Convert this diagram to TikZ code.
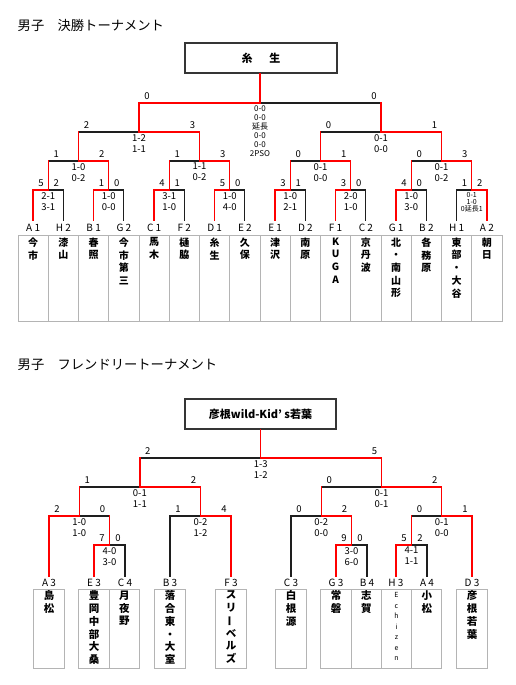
\documentclass[tikz,border=0pt]{standalone}
\usepackage{fontspec}
\setmainfont{Noto Sans CJK JP}
\definecolor{rd}{RGB}{255,0,0}
\definecolor{bk}{RGB}{30,30,30}
\definecolor{gbox}{RGB}{180,180,180}
\tikzset{
  win/.style={draw=rd, line width=1.3pt, line cap=rect},
  lose/.style={draw=bk, line width=1.2pt, line cap=rect},
  lab/.style={font=\fontsize{9.5}{11}\selectfont, inner sep=0pt},
  score/.style={font=\fontsize{9.5}{11}\selectfont, inner sep=0pt, align=center, anchor=north},
  finscore/.style={font=\fontsize{8}{9}\selectfont, inner sep=0pt, align=center, anchor=north},
  smallscore/.style={font=\fontsize{7}{7.3}\selectfont, inner sep=0pt, align=center, anchor=north},
  tlab/.style={font=\fontsize{10}{12}\selectfont, inner sep=0pt},
  tname/.style={font=\bfseries\fontsize{10}{12.7}\selectfont, inner sep=0pt, align=center, anchor=north},
  fname/.style={font=\bfseries\fontsize{10.5}{12.8}\selectfont, inner sep=0pt, align=center, anchor=north},
  ename/.style={font=\fontsize{7}{10.5}\selectfont, inner sep=0pt, align=center, anchor=north},
  tbox/.style={draw=gbox, line width=0.8pt},
  champ/.style={draw=bk!90, line width=1.5pt, minimum height=30pt, inner sep=0pt, font=\bfseries\fontsize{11}{13}\selectfont},
  ttl/.style={anchor=west, inner sep=0pt, font=\fontsize{13.3}{15}\selectfont}
}
% #1 name #2 xl #3 xr #4 y #5 left bottom #6 right bottom #7 left vert style #8 right vert style #9 winner L/R
\newcommand\game[9]{%
  \coordinate (#1l) at (#2,#4);
  \coordinate (#1r) at (#3,#4);
  \coordinate (#1) at ({(#2+#3)/2},#4);
  \coordinate (#1lb) at (#2,#5);
  \coordinate (#1rb) at (#3,#6);
  \if#9L
    \draw[lose] (#1r) -- (#1);
    \draw[#8] (#1rb) -- (#1r);
    \draw[win] (#1lb) -- (#1l) -- (#1);
  \else
    \draw[lose] (#1l) -- (#1);
    \draw[#7] (#1lb) -- (#1l);
    \draw[win] (#1rb) -- (#1r) -- (#1);
  \fi}
\newcommand\glab[5][score]{%
  \node[lab] (#2-a) at ([xshift=8pt,yshift=7pt]#2l) {#3};
  \node[lab] (#2-b) at ([xshift=-7pt,yshift=7pt]#2r) {#4};
  \node[#1] (#2-s) at ([yshift=-2pt]#2) {#5};}
\begin{document}
\begin{tikzpicture}[x=1pt,y=-1pt]
\useasboundingbox (0,0) rectangle (515,685);
\fill[white] (0,0) rectangle (515,685);

% ===================== 決勝トーナメント =====================
\node[ttl] (title1) at (17.5,25) {男子　決勝トーナメント};
\node[champ, minimum width=152pt] (cbox) at (261,58) {糸\hspace{17pt}生};

% first round
\game{ra}{33.125}{63.375}{190}{220}{220}{win}{lose}{L}
\game{rb}{93.625}{123.875}{190}{220}{220}{win}{lose}{L}
\game{rc}{154.125}{184.375}{190}{220}{220}{win}{lose}{L}
\game{rd}{214.625}{244.875}{190}{220}{220}{win}{lose}{L}
\game{re}{275.125}{305.375}{190}{220}{220}{win}{lose}{L}
\game{rf}{335.625}{365.875}{190}{220}{220}{win}{lose}{L}
\game{rg}{396.125}{426.375}{190}{220}{220}{win}{lose}{L}
\game{rh}{456.625}{486.875}{190}{220}{220}{lose}{win}{R}
% quarter finals
\game{qa}{48.25}{108.75}{161}{190}{190}{win}{win}{R}
\game{qb}{169.25}{229.75}{161}{190}{190}{win}{win}{R}
\game{qc}{290.25}{350.75}{161}{190}{190}{win}{win}{R}
\game{qd}{411.25}{471.75}{161}{190}{190}{win}{win}{R}
% semi finals
\game{sa}{78.5}{199.5}{132}{161}{161}{win}{win}{R}
\game{sb}{320.5}{441.5}{132}{161}{161}{win}{win}{R}
% final
\game{fa}{139}{381}{103}{132}{132}{win}{win}{L}
\draw[win] (fa) -- (fa |- cbox.south);

\glab{ra}{5}{2}{2-1\\3-1}
\glab{rb}{1}{0}{1-0\\0-0}
\glab{rc}{4}{1}{3-1\\1-0}
\glab{rd}{5}{0}{1-0\\4-0}
\glab{re}{3}{1}{1-0\\2-1}
\glab{rf}{3}{0}{2-0\\1-0}
\glab{rg}{4}{0}{1-0\\3-0}
\glab[smallscore]{rh}{1}{2}{0-1\\1-0\\0延長1}
\glab{qa}{1}{2}{1-0\\0-2}
\glab{qb}{1}{3}{1-1\\0-2}
\glab{qc}{0}{1}{0-1\\0-0}
\glab{qd}{0}{3}{0-1\\0-2}
\glab{sa}{2}{3}{1-2\\1-1}
\glab{sb}{0}{1}{0-1\\0-0}
\glab[finscore]{fa}{0}{0}{0-0\\0-0\\延長\\0-0\\0-0\\2PSO}

% team table
\draw[tbox] (18,235) rectangle (502,321);
\foreach \k in {1,...,15} \draw[tbox] ({18+30.25*\k},235) -- ({18+30.25*\k},321);
\foreach \i/\lb/\nm in {0/A 1/今\\市, 1/H 2/漆\\山, 2/B 1/春\\照, 3/G 2/今\\市\\第\\三,
  4/C 1/馬\\木, 5/F 2/樋\\脇, 6/D 1/糸\\生, 7/E 2/久\\保, 8/E 1/津\\沢, 9/D 2/南\\原,
  10/F 1/K\\U\\G\\A, 11/C 2/京\\丹\\波, 12/G 1/北\\・\\南\\山\\形, 13/B 2/各\\務\\原,
  14/H 1/東\\部\\・\\大\\谷, 15/A 2/朝\\日}{
  \node[tlab] (t\i) at ({33.125+30.25*\i},228) {\lb};
  \node[tname] (n\i) at ({33.125+30.25*\i},237.5) {\nm};
}

% ===================== フレンドリートーナメント =====================
\node[ttl] (title2) at (17.5,365) {男子　フレンドリートーナメント};
\node[champ, minimum width=151pt] (fbox) at (260.5,414) {彦根wild-Kid’ s若葉};

\game{fra}{94}{125}{545}{576}{576}{win}{lose}{L}
\game{frb}{336}{367}{545}{576}{576}{win}{lose}{L}
\game{frc}{396}{427}{545}{576}{576}{win}{lose}{L}
\game{fqa}{49}{109.5}{516}{576}{545}{win}{win}{L}
\game{fqb}{170}{231}{516}{576}{576}{lose}{win}{R}
\game{fqc}{291}{351.5}{516}{576}{545}{lose}{win}{R}
\game{fqd}{411.5}{472}{516}{545}{576}{win}{win}{R}
\game{fsa}{79.25}{200.5}{487}{516}{516}{win}{win}{R}
\game{fsb}{321.25}{441.75}{487}{516}{516}{win}{win}{R}
\game{ff}{139.875}{381.5}{458}{487}{487}{win}{win}{R}
\draw[win] (ff) -- (ff |- fbox.south);

\glab{fra}{7}{0}{4-0\\3-0}
\glab{frb}{9}{0}{3-0\\6-0}
\glab{frc}{5}{2}{4-1\\1-1}
\glab{fqa}{2}{0}{1-0\\1-0}
\glab{fqb}{1}{4}{0-2\\1-2}
\glab{fqc}{0}{2}{0-2\\0-0}
\glab{fqd}{0}{1}{0-1\\0-0}
\glab{fsa}{1}{2}{0-1\\1-1}
\glab{fsb}{0}{2}{0-1\\0-1}
\glab{ff}{2}{5}{1-3\\1-2}

\foreach \x/\bx/\lb/\nm in {49/49/A 3/島\\松, 94/94/E 3/豊\\岡\\中\\部\\大\\桑, 125/124.25/C 4/月\\夜\\野,
  170/170/B 3/落\\合\\東\\・\\大\\室, 231/231/F 3/ス\\リ\\\rotatebox[origin=c]{90}{ー}\\ベ\\ル\\ズ,
  291/291/C 3/白\\根\\源, 336/336/G 3/常\\磐, 367/366.25/B 4/志\\賀, 396/396.5/H 3/{},
  427/426.75/A 4/小\\松, 472/472/D 3/彦\\根\\若\\葉}{
  \draw[tbox] ({\bx-15.125},589) rectangle ({\bx+15.125},668);
  \node[tlab] (ft\x) at (\x,583) {\lb};
  \node[fname] (fn\x) at (\bx,590.5) {\nm};
}
\node[ename] (fn396e) at (396.5,592.5) {E\\c\\h\\i\\z\\e\\n};
\end{tikzpicture}
\end{document}
